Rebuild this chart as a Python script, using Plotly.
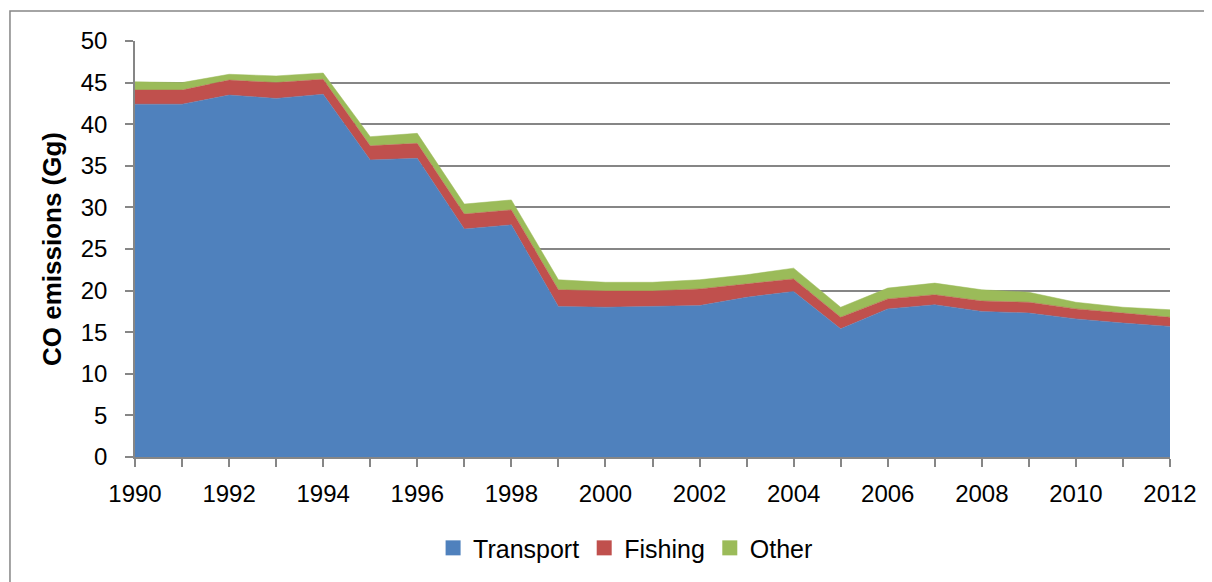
import plotly.graph_objects as go

years = list(range(1990, 2013))
transport = [42.4, 42.4, 43.5, 43.1, 43.6, 35.7, 35.9, 27.4, 27.9, 18.1, 18.0, 18.1,
             18.2, 19.2, 19.9, 15.4, 17.8, 18.3, 17.5, 17.3, 16.6, 16.1, 15.7]
fishing = [1.7, 1.7, 1.8, 1.9, 1.8, 1.7, 1.8, 1.8, 1.8, 2.0, 1.95, 1.85,
           2.0, 1.6, 1.5, 1.4, 1.2, 1.2, 1.25, 1.3, 1.2, 1.2, 1.1]
other = [1.0, 0.9, 0.7, 0.8, 0.75, 1.1, 1.2, 1.2, 1.2, 1.2, 1.05, 1.05,
         1.1, 1.1, 1.3, 1.2, 1.3, 1.4, 1.35, 1.2, 0.8, 0.7, 0.9]

series = [("Transport", transport, "#4F81BD"),
          ("Fishing", fishing, "#C0504D"),
          ("Other", other, "#9BBB59")]

fig = go.Figure()
for name, vals, col in series:
    fig.add_trace(go.Scatter(x=years, y=vals, name=name, mode="lines", stackgroup="one",
                             line=dict(color=col, width=0.5), fillcolor=col, showlegend=False))
# square legend keys like the Excel original
for name, vals, col in series:
    fig.add_trace(go.Scatter(x=[None], y=[None], name=name, mode="markers",
                             marker=dict(symbol="square", size=15, color=col)))

font = "Liberation Sans"
# page body has an 8px margin, so the margins are shifted to keep the plot box in place
fig.update_layout(
    width=1212, height=582,
    margin=dict(l=127, r=50, t=33, b=133),
    plot_bgcolor="white", paper_bgcolor="white",
    font=dict(family=font, size=24, color="black"),
    legend=dict(orientation="h", x=0.474, xanchor="center", y=-0.219, yanchor="middle",
                font=dict(size=25), traceorder="normal", itemwidth=30),
    showlegend=True,
)
fig.update_xaxes(
    range=[1990, 2012],
    tickvals=years,
    ticktext=[str(y) if y % 2 == 0 else "" for y in years],
    ticks="outside", ticklen=8, tickcolor="#868686", tickwidth=1.5,
    ticklabelstandoff=6,
    showline=True, linecolor="#868686", linewidth=1.5,
    showgrid=False, zeroline=False,
)
fig.update_yaxes(
    range=[0, 50], dtick=5,
    ticks="outside", ticklen=8, tickcolor="#868686", tickwidth=1.5,
    ticklabelstandoff=13,
    showline=True, linecolor="#868686", linewidth=1.5,
    showgrid=True, gridcolor="#868686", gridwidth=1.5, zeroline=False,
    title=dict(text="<b>CO emissions (Gg)</b>", font=dict(size=26), standoff=12),
)
fig.add_shape(type="rect", xref="paper", yref="paper", x0=-0.1208, y0=-0.31, x1=1.045, y1=1.0721,
              line=dict(color="#868686", width=1.5), fillcolor="rgba(0,0,0,0)", layer="below")

fig.write_html("out.html")
